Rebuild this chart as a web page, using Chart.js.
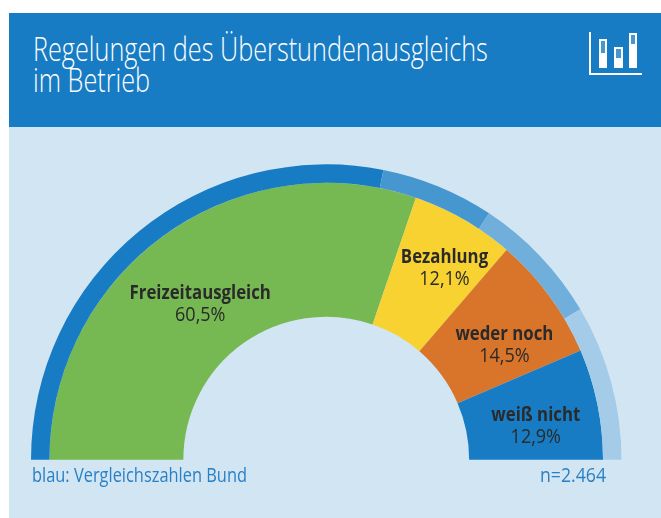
<!DOCTYPE html>
<html lang="de"><head><meta charset="utf-8">
<script src="https://cdn.jsdelivr.net/npm/chart.js@4"></script>
<style>
html,body{margin:0;padding:0;background:#fff;width:661px;height:518px;overflow:hidden}
#panel{position:absolute;left:9px;top:13px;width:652px;height:505px;background:#d2e5f3}
#head{position:absolute;left:9px;top:13px;width:652px;height:114px;background:#187cc4}
canvas{position:absolute;left:0;top:0}
.t{position:absolute;white-space:nowrap;transform-origin:0 0;font-family:"Open Sans",sans-serif}
#t1,#t2{color:#fff;font-weight:300;font-size:33px;line-height:36px;left:33px;transform:scaleX(.765)}
#t1{top:31px}#t2{top:62px}
#f1,#f2{color:#2a80c4;font-size:20px;line-height:22px;top:464px}
#f1{left:32px;transform:scaleX(.82)}#f2{left:540px;transform:scaleX(.885)}
svg{position:absolute;left:580px;top:25px}
</style></head><body>
<div id="panel"></div><div id="head"></div>
<div class="t" id="t1">Regelungen des Überstundenausgleichs</div>
<div class="t" id="t2">im Betrieb</div>
<svg width="65" height="55" viewBox="0 0 65 55">
<g fill="#fff">
<rect x="9" y="7" width="2" height="43"/><rect x="9" y="48" width="53" height="2"/>
<rect x="19" y="14" width="8" height="29"/><rect x="34" y="22" width="9" height="21"/><rect x="49" y="8" width="8" height="35"/>
</g>
<g fill="#4696cf"><rect x="21" y="16" width="4" height="12"/><rect x="36" y="24" width="5" height="9"/><rect x="51" y="10" width="4" height="9"/></g>
</svg>
<canvas id="c" width="661" height="518"></canvas>
<div class="t" id="f1">blau: Vergleichszahlen Bund</div>
<div class="t" id="f2">n=2.464</div>
<script>
const categories=["Freizeitausgleich","Bezahlung","weder noch","weiß nicht"];
const betriebValues=[60.5,12.1,14.5,12.9];
const bundValues=[56.2,12.4,14.4,17.0];
const valueLabels=["60,5%","12,1%","14,5%","12,9%"];
const betriebColors=["#76b852","#f7d231","#d9752b","#187cc4"];
const bundColors=["#187cc4","#4696cf","#70afdc","#a4cbe8"];
const labelShift=[[-4,15],[14,-9],[9,10],[4,9]];
const labelPlugin={id:"labels",afterDatasetsDraw(chart){
  const ctx=chart.ctx,arcs=chart.getDatasetMeta(1).data;
  arcs.forEach((a,i)=>{
    const p=a.tooltipPosition(),x=p.x+labelShift[i][0],y=p.y+labelShift[i][1];
    ctx.textBaseline="middle";ctx.textAlign="center";ctx.fillStyle="#2a2a2a";
    ctx.save();ctx.translate(x,y);ctx.scale(.84,1);
    ctx.font='700 20px "Open Sans",sans-serif';ctx.fillText(categories[i],0,-11);
    ctx.restore();
    ctx.save();ctx.translate(x,y);ctx.scale(.9,1);
    ctx.font='400 20px "Open Sans",sans-serif';ctx.fillText(valueLabels[i],0,11);
    ctx.restore();
  });
}};
new Chart(document.getElementById("c"),{
  type:"doughnut",
  data:{labels:categories,datasets:[
    {label:"Bund",data:bundValues,backgroundColor:bundColors,borderWidth:0,weight:18.5},
    {label:"Betrieb",data:betriebValues,backgroundColor:betriebColors,borderWidth:0,weight:134}
  ]},
  options:{responsive:false,animation:false,rotation:-90,circumference:180,cutout:"48.4%",
    layout:{padding:{left:31,right:39.5,top:164,bottom:58}},
    plugins:{legend:{display:false},tooltip:{enabled:false},title:{display:false}}},
  plugins:[labelPlugin]
});
</script></body></html>
